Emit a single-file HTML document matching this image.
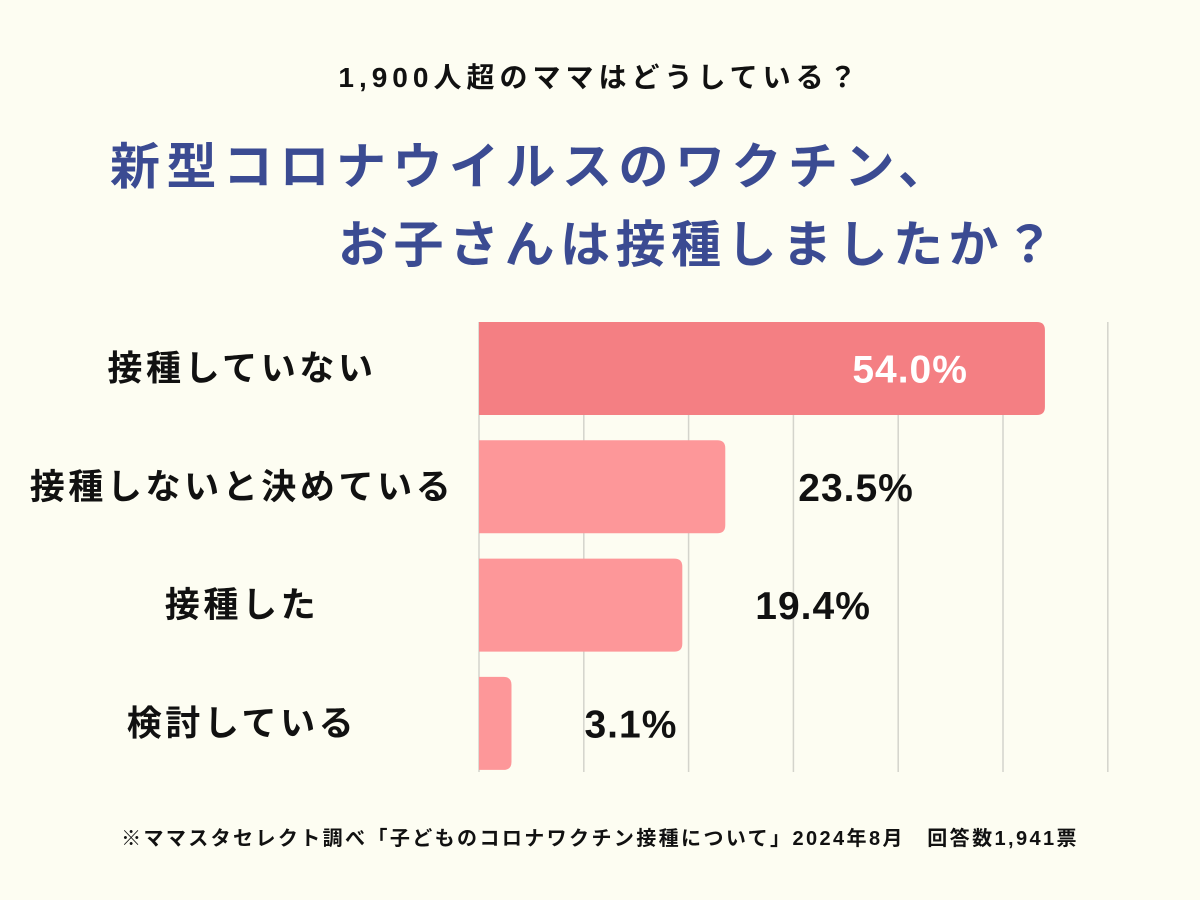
<!DOCTYPE html>
<html><head><meta charset="utf-8">
<style>
body{margin:0;width:1200px;height:900px;background:#fdfdf2;overflow:hidden;font-family:"Liberation Sans","Noto Sans CJK JP",sans-serif;}
.t{position:absolute;white-space:nowrap;font-weight:bold;}
</style></head><body>
<div class="t" style="left:0;width:1200px;text-align:center;top:56px;font-size:28px;letter-spacing:5px;color:#111;">1,900人超のママはどうしている？</div>
<div class="t" style="left:110px;top:127px;font-size:50px;letter-spacing:6.5px;color:#3b4b92;">新型コロナウイルスのワクチン、</div>
<div class="t" style="left:338px;top:205px;font-size:50px;letter-spacing:5.5px;color:#3b4b92;">お子さんは接種しましたか？</div>
<svg id="chart" width="1200" height="900" style="position:absolute;left:0;top:0"></svg>
<div class="t" style="left:0;width:1200px;text-align:center;top:822px;font-size:20px;letter-spacing:2.4px;color:#111;">※ママスタセレクト調べ「子どものコロナワクチン接種について」2024年8月　回答数1,941票</div>
<script>
const categories=["接種していない","接種しないと決めている","接種した","検討している"];
const values=[54.0,23.5,19.4,3.1];
const valueLabels=["54.0%","23.5%","19.4%","3.1%"];
const gridTicks=[10,20,30,40,50,60];
const svg=document.getElementById('chart');
const NS='http://www.w3.org/2000/svg';
const x0=479,pxPer=10.48,yTop=322,step=118.3,bh=93;
const xs=v=>x0+v*pxPer;
function mk(t,a){const e=document.createElementNS(NS,t);for(const k in a)e.setAttribute(k,a[k]);svg.appendChild(e);return e;}
gridTicks.forEach(g=>{const l=mk('line',{x1:xs(g),x2:xs(g),y1:yTop,y2:772,stroke:'#d4d4cc','stroke-width':1.5});

});
const ax=mk('line',{x1:x0,x2:x0,y1:yTop,y2:772,stroke:'#d4d4cc','stroke-width':1.5});


values.forEach((v,i)=>{
const y=yTop+i*step;
const w=xs(v)-x0;
const r=mk('path',{d:`M${x0},${y}H${x0+w-8}Q${x0+w},${y} ${x0+w},${y+8}V${y+bh-8}Q${x0+w},${y+bh} ${x0+w-8},${y+bh}H${x0}Z`,fill:i==0?'#f47f83':'#fd9799'});


const c=mk('text',{x:242,y:y+bh/2+12,'text-anchor':'middle','font-size':35,'letter-spacing':3.6,'font-weight':'bold',fill:'#111'});
c.textContent=categories[i];


const inside=i==0;
const t=mk('text',{x:inside?xs(v)-77:xs(v)+73,y:y+bh/2+14,'text-anchor':inside?'end':'start','font-size':39,'letter-spacing':1,'font-weight':'bold',fill:inside?'#fff':'#111'});
t.textContent=valueLabels[i];


});
</script>
</body></html>
